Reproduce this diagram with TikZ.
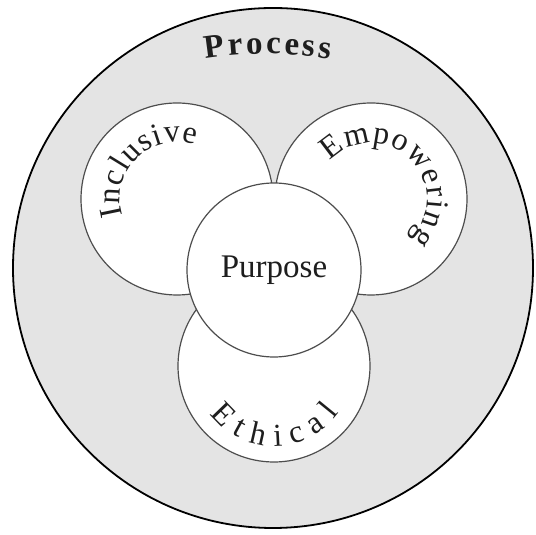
\documentclass[tikz,border=0pt]{standalone}
\usepackage{fontspec}
\setmainfont{Liberation Serif}
\usepackage{tikz}
\usetikzlibrary{decorations.text}
\definecolor{ringgray}{HTML}{E4E4E4}
\definecolor{edgegray}{HTML}{4D4D4D}
\definecolor{inkgray}{HTML}{1E1E1E}
\tikzstyle{outer} = [circle,
minimum size=520pt,
inner sep=0pt,
draw=black,
line width=1.8pt,
fill=ringgray]
\tikzstyle{petal} = [circle,
minimum size=192pt,
inner sep=0pt,
draw=edgegray,
line width=1.2pt,
fill=white]
\tikzstyle{core} = [petal,
minimum size=174pt,
text=inkgray,
font=\fontsize{33}{38}\selectfont]
\tikzstyle{curved} = [decorate,
decoration={text along path, text align={fit to path}, text color=inkgray}]
\newcommand{\petalfont}{\fontsize{32}{37}\selectfont}

\begin{document}
\begin{tikzpicture}[x=1pt, y=1pt]
\useasboundingbox (0,0) rectangle (536,535);
\node (process) [outer] at (273,267) {};
\node (inclusive) [petal] at (177,336) {};
\node (empowering) [petal] at (371,336) {};
\node (ethical) [petal] at (274,169) {};
\node (purpose) [core] at (274,265) {Purpose};

% words along the circles
\path [curved, decoration={text={|\fontsize{33}{38}\selectfont\bfseries|Process}}]
  (268,81) ++(99:400pt) arc[start angle=99, end angle=81, radius=400pt];
\path [curved, decoration={text={|\petalfont|Inclusive}}]
  (inclusive.center) ++(197:57pt) arc[start angle=197, end angle=71, radius=57pt];
\path [curved, decoration={text={|\petalfont|Empowering}}]
  (empowering.center) ++(137:56pt) arc[start angle=137, end angle=-45, radius=56pt];
\path [curved, decoration={text={|\petalfont|Ethical}}]
  (ethical.center) ++(217:80pt) arc[start angle=217, end angle=324, radius=80pt];
\end{tikzpicture}
\end{document}
